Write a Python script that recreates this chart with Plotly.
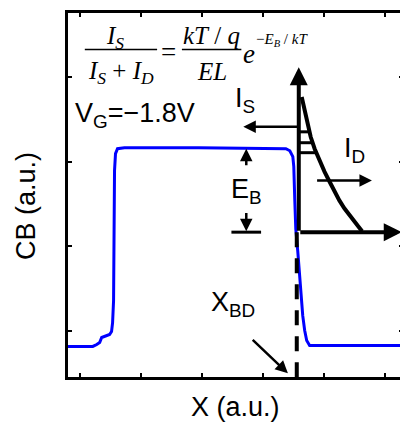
import plotly.graph_objects as go

# ---- data (x in a.u., y in a.u.) ----
cb_x = [-0.2, 0.207, 0.272, 0.320, 0.353, 0.385, 0.483, 0.515, 0.532, 0.548, 0.564, 0.580, 0.613, 0.727,
        1.946, 3.377, 3.442, 3.491, 3.507, 3.524, 3.540, 3.572, 3.605, 3.621, 3.654, 3.686, 3.719, 3.767, 5.3]
cb_y = [-0.188, -0.188, -0.165, -0.141, -0.082, -0.071, -0.047, -0.012, 0.094, 0.353, 1.894, 2.094, 2.153, 2.165,
        2.165, 2.153, 2.129, 2.059, 1.941, 1.529, 1.200, 0.941, 0.588, 0.412, 0.176, 0.000, -0.118, -0.176, -0.176]

decay_x = [3.637, 3.670, 3.702, 3.735, 3.784, 3.849, 3.930, 4.011, 4.093, 4.174, 4.255, 4.337, 4.418, 4.499, 4.564, 4.629]
decay_y = [2.765, 2.647, 2.529, 2.435, 2.294, 2.153, 2.012, 1.882, 1.765, 1.647, 1.541, 1.447, 1.365, 1.294, 1.235, 1.176]

x_bd = 3.556
dash_y = [1.165, -0.55]
axis_x0, axis_y0 = 3.589, 1.165
axis_top = 3.118
axis_right = 5.28
rung_y = [2.353, 2.224, 2.106]
rung_xend = [3.767, 3.816, 3.865]

x_ticks = [0, 1, 2, 3, 4, 5]
y_ticks = [0, 1, 2, 3]

fig = go.Figure()
fig.add_trace(go.Scatter(x=cb_x, y=cb_y, mode="lines", line=dict(color="#0000ff", width=3), showlegend=False))
fig.add_trace(go.Scatter(x=[x_bd, x_bd], y=dash_y, mode="lines",
                         line=dict(color="black", width=4, dash="15px,11px"), showlegend=False))
fig.add_trace(go.Scatter(x=decay_x, y=decay_y, mode="lines", line=dict(color="black", width=4), showlegend=False))
for ry, rx in zip(rung_y, rung_xend):
    fig.add_trace(go.Scatter(x=[axis_x0, rx], y=[ry, ry], mode="lines", line=dict(color="black", width=3),
                             showlegend=False))
# E_B bar
fig.add_trace(go.Scatter(x=[2.483, 2.97], y=[1.165, 1.165], mode="lines", line=dict(color="black", width=3),
                         showlegend=False))

ann = []

def arrow(x, y, ax, ay, w=3, size=1.0):
    ann.append(dict(x=x, y=y, ax=ax, ay=ay, xref="x", yref="y", axref="x", ayref="y", text="",
                    showarrow=True, arrowhead=2, arrowsize=size, arrowwidth=w, arrowcolor="black",
                    standoff=0, startstandoff=0))

arrow(axis_x0, axis_top, axis_x0, axis_y0, w=4, size=0.9)
arrow(axis_right, axis_y0, axis_x0, axis_y0, w=4, size=0.9)
arrow(2.678, 2.412, axis_x0, 2.412, w=2.5)
arrow(4.79, 1.776, 3.865, 1.776, w=2.5)
arrow(2.727, 2.153, 2.727, 1.94, w=2.5)
arrow(2.727, 1.176, 2.727, 1.41, w=2.5)
arrow(3.41, -0.506, 2.808, -0.094, w=2.5)

sans = "Liberation Sans, Arial, sans-serif"
serif = "Liberation Serif, Times New Roman, serif"

def txt(x, y, t, size=27, font=sans, xanchor="center"):
    ann.append(dict(x=x, y=y, xref="x", yref="y", text=t, showarrow=False,
                    font=dict(family=font, size=size, color="black"), xanchor=xanchor, yanchor="middle"))

txt(2.71, 2.73, "I<sub>S</sub>")
txt(4.5, 2.14, "I<sub>D</sub>")
txt(2.727, 1.647, "E<sub>B</sub>")
txt(2.515, 0.318, "X<sub>BD</sub>")
txt(-0.12, 2.55, "V<sub>G</sub>=\u22121.8V", xanchor="left")

# formula
txt(0.564, 3.47, "<i>I</i><sub><i>S</i></sub>", size=25, font=serif)
txt(0.662, 3.06, "<i>I</i><sub><i>S</i></sub> + <i>I</i><sub><i>D</i></sub>", size=25, font=serif)
txt(1.442, 3.30, "=", size=27, font=serif)
txt(2.158, 3.494, "<i>kT</i> / <i>q</i>", size=25, font=serif)
txt(2.158, 3.07, "<i>EL</i>", size=25, font=serif)
txt(2.776, 3.27, "<i>e</i>", size=27, font=serif)
txt(2.86, 3.435, "\u2212<i>E</i><sub><i>B</i></sub> / <i>kT</i>", size=15, font=serif, xanchor="left")
fig.add_trace(go.Scatter(x=[0.076, 1.263], y=[3.329, 3.329], mode="lines", line=dict(color="black", width=1.5),
                         showlegend=False))
fig.add_trace(go.Scatter(x=[1.67, 2.646], y=[3.329, 3.329], mode="lines", line=dict(color="black", width=1.5),
                         showlegend=False))

# axis titles
ann.append(dict(x=0.5, y=-0.035, xref="paper", yref="paper", text="X (a.u.)", showarrow=False,
                font=dict(family=sans, size=27, color="black"), xanchor="center", yanchor="top"))
ann.append(dict(x=-0.125, y=0.47, xref="paper", yref="paper", text="CB (a.u.)", showarrow=False, textangle=-90,
                font=dict(family=sans, size=27, color="black"), xanchor="center", yanchor="middle"))

# page body has an 8px margin, so the figure is sized/offset to compensate
fig.update_layout(
    width=400, height=420, margin=dict(l=60, r=2, t=2, b=51),
    plot_bgcolor="white", paper_bgcolor="white", annotations=ann,
    xaxis=dict(range=[-0.2, 5.3], tickvals=x_ticks, showticklabels=False, ticks="inside", ticklen=4,
               tickwidth=2, tickcolor="black", showline=True, linewidth=3, linecolor="black", mirror="ticks",
               showgrid=False, zeroline=False),
    yaxis=dict(range=[-0.55, 3.76], tickvals=y_ticks, showticklabels=False, ticks="inside", ticklen=4,
               tickwidth=2, tickcolor="black", showline=True, linewidth=3, linecolor="black", mirror="ticks",
               showgrid=False, zeroline=False),
)
fig.write_html("out.html")
